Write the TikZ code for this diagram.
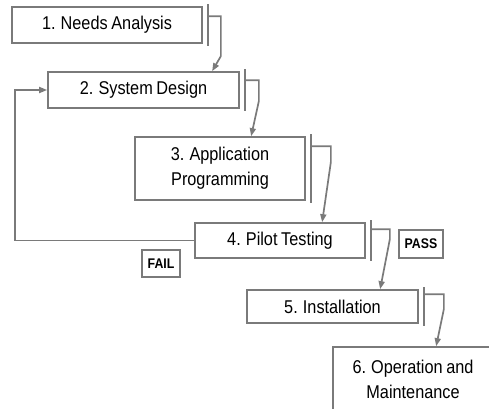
\documentclass[tikz,border=0pt]{standalone}
\usepackage{fontspec}
\setmainfont{Liberation Sans}[FakeStretch=0.88,WordSpace=0.8]
\usetikzlibrary{arrows.meta,calc}
\definecolor{linegray}{HTML}{7A7A7A}
\tikzset{
  stage/.style={draw=linegray, line width=1.7pt, fill=white, inner sep=0pt, align=center,
    font=\fontsize{18.5}{25}\selectfont, text=black},
  verdict/.style={draw=linegray, line width=1.4pt, inner sep=0pt,
    font=\fontsize{14}{16}\selectfont\bfseries, text=black},
  tickmark/.style={draw=linegray, line width=1.7pt},
  conn/.style={draw=linegray, line width=1.7pt, -{Triangle[length=8pt,width=6pt]}},
  loop/.style={draw=linegray, line width=1.7pt, -{Triangle[length=8pt,width=6pt]}}
}
\begin{document}
\begin{tikzpicture}[x=1pt,y=-1pt]
\useasboundingbox (0,0) rectangle (489,408);
\clip (0,0) rectangle (489,408);
\fill[white] (0,0) rectangle (489,408);

\node[stage, minimum width=190pt, minimum height=36pt] (b1) at (107,25) {1. Needs Analysis};
\node[stage, minimum width=191pt, minimum height=36pt] (b2) at (143.5,90) {2. System Design};
\node[stage, minimum width=170pt, minimum height=63pt] (b3) at (220,168.5) {3. Application\\Programming};
\node[stage, minimum width=170pt, minimum height=35pt] (b4) at (280,240.5) {4. Pilot Testing};
\node[stage, minimum width=171pt, minimum height=33pt] (b5) at (332.5,306.5) {5. Installation};
\node[stage, minimum width=160pt, minimum height=65pt] (b6) at (413,379.5) {6. Operation and\\Maintenance};

\node[verdict, minimum width=44pt, minimum height=28pt] (pass) at (421,244) {PASS};
\node[verdict, minimum width=38pt, minimum height=27pt] (fail) at (161,263.5) {FAIL};

% tick marks
\foreach \b in {b1,b2,b3,b4,b5} {
  \draw[tickmark] ([xshift=5pt,yshift=2pt]\b.north east) -- ([xshift=5pt,yshift=-2pt]\b.south east);
}

% arrow tips on the next boxes
\coordinate (t2) at ($(b2.north west)+(165,0)$);
\coordinate (t3) at ($(b3.north west)+(117,0)$);
\coordinate (t4) at ($(b4.north west)+(128,0)$);
\coordinate (t5) at ($(b5.north west)+(134,0)$);
\coordinate (t6) at ($(b6.north west)+(104,0)$);

\draw[conn] ([xshift=5pt,yshift=-10pt]b1.north east) -- ++(13,0) -- ++(0,40) -- (t2);
\draw[conn] ([xshift=5pt,yshift=-9pt]b2.north east) -- ++(14,0) -- ++(0,21) -- (t3);
\draw[conn] ([xshift=5pt,yshift=-10pt]b3.north east) -- ++(20,0) -- ++(0,16) -- (t4);
\draw[conn] ([xshift=5pt,yshift=-7pt]b4.north east) -- ++(19,0) -- ++(0,10) -- (t5);
\draw[conn] ([xshift=5pt,yshift=-5pt]b5.north east) -- ++(20,0) -- ++(0,15) -- (t6);

% fail loop
\coordinate (lx) at (15,0);
\draw[loop] (b4.west) -- (b4.west -| lx) -- (b2.west -| lx) -- (b2.west);
\end{tikzpicture}
\end{document}
